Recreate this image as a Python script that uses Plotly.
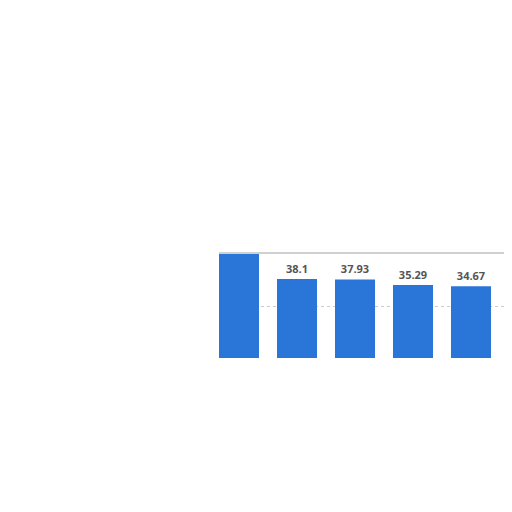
import plotly.graph_objects as go

# Bar values (first and last bar only partly visible)
categories = ["A", "B", "C", "D", "E", "F"]
values = [55.0, 38.1, 37.93, 35.29, 34.67, 31.4]
labels = ["", "38.1", "37.93", "35.29", "34.67", ""]

bar_color = "#2a75d8"

fig = go.Figure()
fig.add_trace(go.Bar(
    x=list(range(len(categories))),
    y=values,
    text=labels,
    textposition="outside",
    cliponaxis=True,
    textfont=dict(family="Open Sans", size=11, color="#555555", weight="bold"),
    marker=dict(color=bar_color, line=dict(width=0)),
    width=0.69,
    hoverinfo="skip",
))

# page body adds an 8px offset, margins are set to compensate
fig.update_layout(
    width=512,
    height=512,
    margin=dict(l=211, r=0, t=245, b=162),
    paper_bgcolor="white",
    plot_bgcolor="white",
    showlegend=False,
)

fig.update_xaxes(
    range=[-0.345, 4.845],
    showticklabels=False,
    showgrid=False,
    zeroline=False,
    showline=False,
    ticks="",
)
fig.update_yaxes(
    range=[0, 50.7],
    tickvals=[25],
    showticklabels=False,
    showgrid=True,
    gridcolor="#cccccc",
    griddash="dot",
    gridwidth=1,
    zeroline=False,
    showline=False,
    ticks="",
)

# thin grey top border of the plot panel
fig.add_shape(type="line", xref="paper", yref="paper", x0=0, x1=1, y0=1, y1=1,
              line=dict(color="#d0d0d0", width=2))

fig.write_html("out.html")
